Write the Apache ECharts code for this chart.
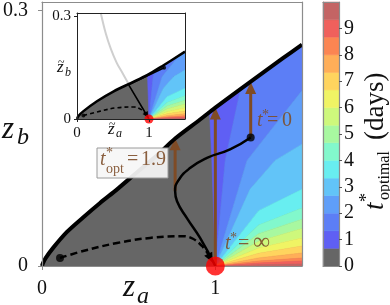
<!DOCTYPE html>
<html>
<head>
<meta charset="utf-8">
<script src="https://cdn.jsdelivr.net/npm/echarts@6.0.0/dist/echarts.min.js"></script>
<style>
html,body{margin:0;padding:0;background:#ffffff;}
#chart{width:390px;height:305px;}
</style>
</head>
<body>
<div id="chart"></div>
<script>
// ---------------- data ----------------
const bandLevels = [0, 0.67, 1.33, 2, 2.67, 3.33, 4, 4.67, 5.33, 6, 6.67, 7.33, 8, 8.67, 9.33, 10];
const bandColors = ['#666666', '#5f5ff4', '#5c7ef6', '#5f9ef9', '#62c4f8', '#68eef0', '#82f8cc',
  '#a8f8a0', '#cef87c', '#f0f464', '#ffd45e', '#ffae58', '#fb8552', '#f0605c', '#c46464'];

// thick boundary z_b(z_a) of the main panel
const boundaryMain = [[0, 0], [0.005, 0.003], [0.02, 0.009], [0.063, 0.021], [0.144, 0.04], [0.237, 0.057],
  [0.335, 0.074], [0.433, 0.09], [0.525, 0.106], [0.664, 0.13], [0.77, 0.15], [0.912, 0.172],
  [1.0, 0.186], [1.2, 0.216], [1.39, 0.244], [1.5, 0.26]];
// boundary of the inset panel
const boundaryInset = [[0, 0], [0.02, 0.009], [0.09, 0.023], [0.277, 0.052], [0.51, 0.081],
  [0.746, 0.105], [0.98, 0.129], [1.17, 0.153], [1.5, 0.197]];

// contour lines of t*_optimal, all leaving the point (1, 0)
const singularPoint = [1, 0];
const contourLines = [
  [[0.98, 0.124], [0.969, 0.171]],
  [[1.057, 0.124], [1.131, 0.194]],
  [[1.183, 0.124], [1.5, 0.206]],
  [[1.2, 0.09], [1.345, 0.124], [1.5, 0.143]],
  [[1.25, 0.065], [1.5, 0.09]],
  [[1.25, 0.048], [1.5, 0.068]],
  [[1.25, 0.038], [1.5, 0.055]],
  [[1.25, 0.029], [1.5, 0.044]],
  [[1.25, 0.021], [1.5, 0.033]],
  [[1.25, 0.015], [1.5, 0.0235]],
  [[1.25, 0.0095], [1.5, 0.0153]],
  [[1.25, 0.0058], [1.5, 0.0094]],
  [[1.25, 0.0035], [1.5, 0.0059]],
  [[1.25, 0.0014], [1.5, 0.0024]],
  [[1.5, 0]]
];

const solidPathMain = [[1.0, 0], [0.912, 0.033], [0.837, 0.056], [0.779, 0.076], [0.768, 0.088],
  [0.785, 0.1], [0.854, 0.115], [0.952, 0.127], [1.085, 0.137], [1.204, 0.151]];
const dashedPathMain = [[0.104, 0.0094], [0.237, 0.0176], [0.433, 0.027], [0.623, 0.033],
  [0.814, 0.035], [0.871, 0.032], [0.923, 0.0235], [0.962, 0.013]];
const dashedArrowMain = [[0.955, 0.016, 0.985, 0.004]];
const dotsMain = [[0.104, 0.0094], [1.204, 0.151]];
const redPoint = [[1, 0]];
// vertical arrows: z_a, from z_b, to z_b
const optimalArrows = [[0.768, 0.088, 0.15], [1.0, 0.0, 0.186], [1.204, 0.151, 0.216]];

const solidPathInset = [[1, 0], [0.718, 0.1], [1.21, 0.15]];
const dashedPathInset = [[0.089, 0.01], [0.324, 0.023], [0.559, 0.033], [0.793, 0.035], [0.887, 0.028], [0.962, 0.013]];
const dashedArrowInset = [[0.955, 0.016, 0.99, 0.004]];
const dotsInset = [[0.089, 0.01], [1.21, 0.15]];
const grayCurveInset = [[0.33, 0.31], [0.40, 0.25], [0.47, 0.205], [0.55, 0.165], [0.63, 0.135], [0.718, 0.102]];

// ---------------- drawing ----------------
const SERIF = 'Liberation Serif';
const BROWN = '#7f4b25';
const TXT_BROWN = 'rgba(125,78,42,0.9)';

const chart = echarts.init(document.getElementById('chart'), null, {renderer: 'canvas', width: 390, height: 305});

function farPoint(line) {
  const L = line[line.length - 1];
  const P = line.length > 1 ? line[line.length - 2] : singularPoint;
  return [L[0] + (L[0] - P[0]) * 10, L[1] + (L[1] - P[1]) * 10];
}
function wedgeRender(params, api) {
  const k = api.value(0);
  const a = contourLines[k - 1], b = contourLines[k];
  const pts = [singularPoint].concat(a, [farPoint(a), farPoint(b)], b.slice().reverse()).map(p => api.coord(p));
  return {type: 'polygon', shape: {points: pts}, style: {fill: bandColors[k], stroke: bandColors[k], lineWidth: 0.6}};
}
const wedgeData = contourLines.slice(1).map((c, i) => [i + 1]);

function arrowHeadRender(size, halfW, color) {
  return function (params, api) {
    const p0 = api.coord([api.value(0), api.value(1)]);
    const p1 = api.coord([api.value(2), api.value(3)]);
    const dx = p1[0] - p0[0], dy = p1[1] - p0[1];
    const L = Math.hypot(dx, dy) || 1, ux = dx / L, uy = dy / L;
    const bx = p1[0] - ux * size, by = p1[1] - uy * size;
    return {type: 'polygon', shape: {points: [p1, [bx - uy * halfW, by + ux * halfW], [bx + uy * halfW, by - ux * halfW]]},
      style: {fill: color}};
  };
}
function brownArrowRender(params, api) {
  const x = api.value(0);
  const p0 = api.coord([x, api.value(1)]), p1 = api.coord([x, api.value(2)]);
  const head = 12, hw = 5.5;
  return {type: 'group', children: [
    {type: 'line', shape: {x1: p0[0], y1: p0[1], x2: p1[0], y2: p1[1] + head - 1}, style: {stroke: BROWN, lineWidth: 3}},
    {type: 'polygon', shape: {points: [[p1[0], p1[1]], [p1[0] - hw, p1[1] + head], [p1[0] + hw, p1[1] + head]]}, style: {fill: BROWN}}
  ]};
}
function colorbarRender(params, api) {
  const i = api.value(0);
  const p0 = api.coord([0, bandLevels[i]]), p1 = api.coord([1, bandLevels[i + 1]]);
  return {type: 'rect', shape: {x: p0[0], y: p1[1], width: p1[0] - p0[0], height: p0[1] - p1[1]},
    style: {fill: bandColors[i], stroke: bandColors[i], lineWidth: 0.5}};
}

function lineSeries(xi, yi, data, opt) {
  return Object.assign({
    type: 'line', xAxisIndex: xi, yAxisIndex: yi, data: data, symbol: 'none', silent: true,
    animation: false
  }, opt);
}

const series = [
  // ---- main panel ----
  lineSeries(0, 0, boundaryMain, {z: 1, smooth: 0.3, lineStyle: {opacity: 0}, areaStyle: {color: bandColors[0], opacity: 1, origin: 'start'}}),
  {type: 'custom', xAxisIndex: 0, yAxisIndex: 0, z: 2, clip: true, silent: true, animation: false, data: wedgeData, renderItem: wedgeRender},
  lineSeries(0, 0, boundaryMain, {z: 3, smooth: 0.3, lineStyle: {opacity: 0}, areaStyle: {color: '#ffffff', opacity: 1, origin: 'end'}}),
  {type: 'custom', xAxisIndex: 0, yAxisIndex: 0, z: 4, silent: true, animation: false, data: optimalArrows, renderItem: brownArrowRender},
  lineSeries(0, 0, boundaryMain, {z: 5, smooth: 0.3, lineStyle: {color: '#000', width: 4}}),
  lineSeries(0, 0, solidPathMain, {z: 6, smooth: 0.5, lineStyle: {color: '#000', width: 2.5}}),
  lineSeries(0, 0, dashedPathMain, {z: 6, smooth: 0.4, lineStyle: {color: '#000', width: 2.5, type: [7, 4]}}),
  {type: 'custom', xAxisIndex: 0, yAxisIndex: 0, z: 6, silent: true, animation: false, data: dashedArrowMain, renderItem: arrowHeadRender(10, 4.5, '#000')},
  {type: 'scatter', xAxisIndex: 0, yAxisIndex: 0, z: 7, clip: false, silent: true, animation: false, data: dotsMain, symbol: 'circle', symbolSize: 8, itemStyle: {color: '#000'}},
  {type: 'scatter', xAxisIndex: 0, yAxisIndex: 0, z: 9, clip: false, silent: true, animation: false, data: redPoint, symbol: 'circle', symbolSize: 19, itemStyle: {color: '#ff0000'}},
  // ---- inset ----
  lineSeries(2, 2, boundaryInset, {z: 10, smooth: 0.3, lineStyle: {opacity: 0}, areaStyle: {color: bandColors[0], opacity: 1, origin: 'start'}}),
  {type: 'custom', xAxisIndex: 2, yAxisIndex: 2, z: 11, clip: true, silent: true, animation: false, data: wedgeData, renderItem: wedgeRender},
  lineSeries(2, 2, boundaryInset, {z: 12, smooth: 0.3, lineStyle: {opacity: 0}, areaStyle: {color: '#ffffff', opacity: 1, origin: 'end'}}),
  lineSeries(2, 2, grayCurveInset, {z: 13, smooth: 0.4, lineStyle: {color: '#cfcfcf', width: 2}}),
  lineSeries(2, 2, boundaryInset, {z: 14, smooth: 0.3, lineStyle: {color: '#000', width: 2.5}}),
  lineSeries(2, 2, solidPathInset, {z: 15, lineStyle: {color: '#000', width: 1.6}}),
  lineSeries(2, 2, dashedPathInset, {z: 15, smooth: 0.4, lineStyle: {color: '#000', width: 1.6, type: [4, 3]}}),
  {type: 'custom', xAxisIndex: 2, yAxisIndex: 2, z: 15, silent: true, animation: false, data: dashedArrowInset, renderItem: arrowHeadRender(6, 3, '#000')},
  {type: 'scatter', xAxisIndex: 2, yAxisIndex: 2, z: 16, clip: false, silent: true, animation: false, data: dotsInset, symbol: 'circle', symbolSize: 4, itemStyle: {color: '#000'}},
  {type: 'scatter', xAxisIndex: 2, yAxisIndex: 2, z: 18, clip: false, silent: true, animation: false, data: redPoint, symbol: 'circle', symbolSize: 9, itemStyle: {color: '#ff0000'}},
  // ---- colorbar ----
  {type: 'custom', xAxisIndex: 4, yAxisIndex: 5, z: 2, silent: true, animation: false, data: bandColors.map((c, i) => [i]), renderItem: colorbarRender}
];

const GRAYAX = '#8c8c8c';
function ax(gi, pos, min, max, interval, opts) {
  return Object.assign({
    type: 'value', gridIndex: gi, position: pos, min: min, max: max, interval: interval,
    splitLine: {show: false}, axisLine: {show: true, onZero: false, lineStyle: {color: GRAYAX, width: 1.2}},
    axisTick: {show: false}, axisLabel: {show: false}, z: 8
  }, opts);
}
const mainLabel = {show: true, fontFamily: SERIF, fontSize: 20, color: '#111', showMaxLabel: false};
const insetLabel = {show: true, fontFamily: SERIF, fontSize: 15, color: '#111', showMaxLabel: false};
const insetLine = {show: true, onZero: false, lineStyle: {color: '#222', width: 1}};
const noMax = v => (v === 1.5 ? '' : String(v));

const xAxis = [
  ax(0, 'bottom', 0, 1.5, 1, {axisTick: {show: true, length: 4, lineStyle: {color: GRAYAX}}, axisLabel: Object.assign({margin: 13, formatter: noMax}, mainLabel)}),
  ax(0, 'top', 0, 1.5, 1, {}),
  ax(1, 'bottom', 0, 1.5, 1, {z: 19, axisLine: insetLine, axisTick: {show: true, length: 3, lineStyle: {color: '#222'}}, axisLabel: Object.assign({margin: 7, formatter: noMax}, insetLabel)}),
  ax(1, 'top', 0, 1.5, 1, {z: 19, axisLine: insetLine}),
  ax(2, 'bottom', 0, 1, 1, {}),
  ax(2, 'top', 0, 1, 1, {})
];
const yAxis = [
  ax(0, 'left', 0, 0.31, 0.3, {axisTick: {show: true, length: 4, lineStyle: {color: GRAYAX}}, axisLabel: Object.assign({margin: 14}, mainLabel)}),
  ax(0, 'right', 0, 0.31, 0.3, {}),
  ax(1, 'left', 0, 0.31, 0.3, {z: 19, axisLine: insetLine, axisTick: {show: true, length: 3, lineStyle: {color: '#222'}}, axisLabel: Object.assign({margin: 6}, insetLabel)}),
  ax(1, 'right', 0, 0.31, 0.3, {z: 19, axisLine: insetLine}),
  ax(2, 'left', 0, 10, 1, {}),
  ax(2, 'right', 0, 10, 1, {axisTick: {show: true, length: 3, lineStyle: {color: '#555'}},
    axisLabel: Object.assign({margin: 5, formatter: v => (v >= 10 ? '' : String(v))}, mainLabel)})
];

// text helpers (baseline based)
function T(x, base, s, size, o) {
  o = o || {};
  return {type: 'text', z: 100, silent: true, style: {
    text: s, x: x, y: base - 0.32 * size,
    fontFamily: SERIF, fontSize: size, fontStyle: o.italic ? 'italic' : 'normal',
    fill: o.color || '#111', verticalAlign: 'middle', align: o.align || 'left'
  }};
}

const graphics = [
  // axis titles main
  T(2, 140, 'z', 31, {italic: true}), T(17, 145, 'b', 24, {italic: true}),
  T(123, 298, 'z', 31, {italic: true}), T(137, 304, 'a', 24, {italic: true}),
  // inset axis titles
  T(109, 129, '~', 12), T(108, 135, 'z', 17, {italic: true}), T(116, 138, 'a', 12, {italic: true}),
  T(58, 67, '~', 12), T(57, 73, 'z', 17, {italic: true}), T(65, 77, 'b', 12, {italic: true}),
  // annotation box
  {type: 'rect', z: 99, silent: true, shape: {x: 97, y: 148, width: 71, height: 30},
    style: {fill: 'rgba(246,246,246,0.93)', stroke: '#9a9a9a', lineWidth: 1}},
  T(100, 166, 't', 20, {italic: true, color: TXT_BROWN}), T(106, 158, '*', 14, {color: TXT_BROWN}),
  T(106, 174, 'opt', 14, {color: TXT_BROWN}), T(127, 166, '=', 20, {color: TXT_BROWN}), T(141, 166, '1.9', 20, {color: TXT_BROWN}),
  // t*=0
  T(257, 127, 't', 20, {italic: true, color: TXT_BROWN}), T(262, 120, '*', 14, {color: TXT_BROWN}),
  T(267, 127, '=', 20, {color: TXT_BROWN}), T(282, 127, '0', 20, {color: TXT_BROWN}),
  // t*=inf
  T(225, 250, 't', 20, {italic: true, color: TXT_BROWN}), T(230, 243, '*', 14, {color: TXT_BROWN}),
  T(238, 250, '=', 20, {color: TXT_BROWN}), T(253, 250, '\u221E', 24, {color: TXT_BROWN}),
  // colorbar title (rotated)
  {type: 'group', x: 385, y: 210, rotation: Math.PI / 2, z: 100, silent: true, children: [
    T(0, 0, 't', 27, {italic: true}), T(8, -12, '*', 18), T(10, 5, 'optimal', 16), T(70, 0, '(days)', 27)
  ]}
];

chart.setOption({
  animation: false,
  backgroundColor: '#ffffff',
  textStyle: {fontFamily: SERIF},
  grid: [
    {left: 42, top: 2, width: 260, height: 264, show: false, containLabel: false, outerBoundsMode: 'none'},
    {left: 77, top: 13, width: 108, height: 106, show: true, backgroundColor: '#ffffff', borderWidth: 0, containLabel: false, outerBoundsMode: 'none'},
    {left: 323, top: 2, width: 16, height: 264, show: false, containLabel: false, outerBoundsMode: 'none'}
  ],
  xAxis: xAxis,
  yAxis: yAxis,
  series: series,
  graphic: {elements: graphics}
});
</script>
</body>
</html>
